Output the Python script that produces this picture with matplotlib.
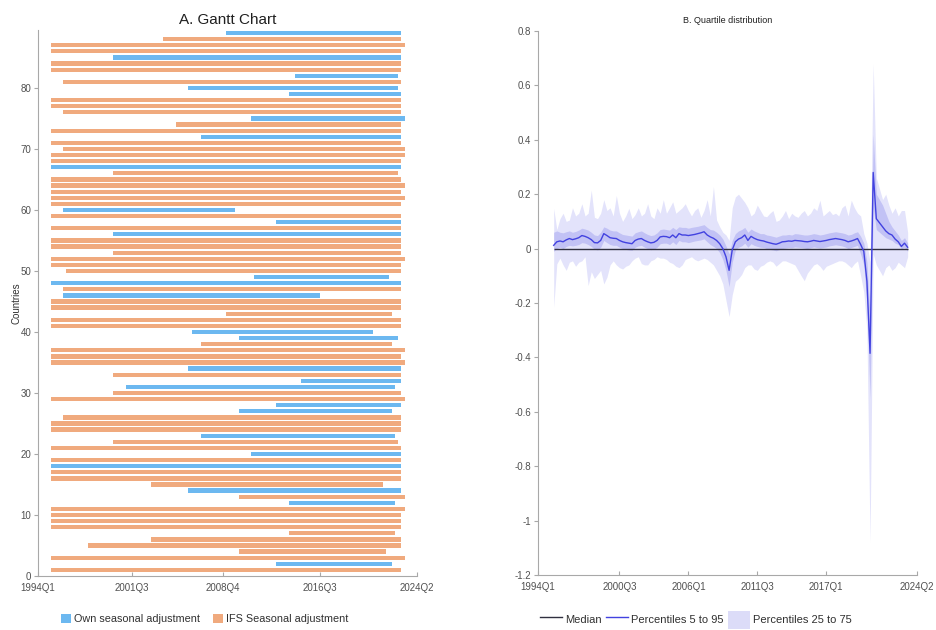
import numpy as np
import matplotlib
matplotlib.use('Agg')
import matplotlib.pyplot as plt
from matplotlib.patches import Patch
from matplotlib.lines import Line2D

##############################################################################
# DATA

# panel A: one bar per country (1..89), type and period covered
country_type = ['IFS', 'Own', 'IFS', 'IFS', 'IFS', 'IFS', 'IFS', 'IFS', 'IFS', 'IFS',
                'IFS', 'Own', 'IFS', 'Own', 'IFS', 'IFS', 'IFS', 'Own', 'IFS', 'Own',
                'IFS', 'IFS', 'Own', 'IFS', 'IFS', 'IFS', 'Own', 'Own', 'IFS', 'IFS',
                'Own', 'Own', 'IFS', 'Own', 'IFS', 'IFS', 'IFS', 'IFS', 'Own', 'Own',
                'IFS', 'IFS', 'IFS', 'IFS', 'IFS', 'Own', 'IFS', 'Own', 'Own', 'IFS',
                'IFS', 'IFS', 'IFS', 'IFS', 'IFS', 'Own', 'IFS', 'Own', 'IFS', 'Own',
                'IFS', 'IFS', 'IFS', 'IFS', 'IFS', 'IFS', 'Own', 'IFS', 'IFS', 'IFS',
                'IFS', 'Own', 'IFS', 'IFS', 'Own', 'IFS', 'IFS', 'IFS', 'Own', 'Own',
                'IFS', 'Own', 'IFS', 'IFS', 'Own', 'IFS', 'IFS', 'IFS', 'Own']
start_q = ['1995Q1', '2013Q1', '1995Q1', '2010Q1', '1998Q1', '2003Q1', '2014Q1', '1995Q1', '1995Q1', '1995Q1',
           '1995Q1', '2014Q1', '2010Q1', '2006Q1', '2003Q1', '1995Q1', '1995Q1', '1995Q1', '1995Q1', '2011Q1',
           '1995Q1', '2000Q1', '2007Q1', '1995Q1', '1995Q1', '1996Q1', '2010Q1', '2013Q1', '1995Q1', '2000Q1',
           '2001Q1', '2015Q1', '2000Q1', '2006Q1', '1995Q1', '1995Q1', '1995Q1', '2007Q1', '2010Q1', '2006Q2',
           '1995Q1', '1995Q1', '2009Q1', '1995Q1', '1995Q1', '1996Q1', '1996Q1', '1995Q1', '2011Q2', '1996Q2',
           '1995Q1', '1995Q1', '2000Q1', '1995Q1', '1995Q1', '2000Q1', '1995Q1', '2013Q1', '1995Q1', '1996Q1',
           '1995Q1', '1995Q1', '1995Q1', '1995Q1', '1995Q1', '2000Q1', '1995Q1', '1995Q1', '1995Q1', '1996Q1',
           '1995Q1', '2007Q1', '1995Q1', '2005Q1', '2011Q1', '1996Q1', '1995Q1', '1995Q1', '2014Q1', '2006Q1',
           '1996Q1', '2014Q3', '1995Q1', '1995Q1', '2000Q1', '1995Q1', '1995Q1', '2004Q1', '2009Q1']
end_q = ['2023Q1', '2022Q2', '2023Q2', '2021Q4', '2023Q1', '2023Q1', '2022Q3', '2023Q1', '2023Q1', '2023Q1',
         '2023Q2', '2022Q3', '2023Q2', '2023Q1', '2021Q3', '2023Q1', '2023Q1', '2023Q1', '2023Q1', '2023Q1',
         '2023Q1', '2022Q4', '2022Q3', '2023Q1', '2023Q1', '2023Q1', '2022Q2', '2023Q1', '2023Q2', '2023Q1',
         '2022Q3', '2023Q1', '2023Q1', '2023Q1', '2023Q2', '2023Q1', '2023Q2', '2022Q2', '2022Q4', '2020Q4',
         '2023Q1', '2023Q1', '2022Q2', '2023Q1', '2023Q1', '2016Q3', '2023Q1', '2023Q1', '2022Q1', '2023Q1',
         '2023Q1', '2023Q2', '2023Q1', '2023Q1', '2023Q1', '2023Q1', '2023Q1', '2023Q1', '2023Q1', '2009Q4',
         '2023Q1', '2023Q2', '2023Q1', '2023Q2', '2023Q1', '2022Q4', '2023Q1', '2023Q1', '2023Q2', '2023Q2',
         '2023Q1', '2023Q1', '2023Q1', '2023Q1', '2023Q2', '2023Q1', '2023Q1', '2023Q1', '2023Q1', '2022Q4',
         '2023Q1', '2022Q4', '2023Q1', '2023Q1', '2023Q1', '2023Q1', '2023Q2', '2023Q1', '2023Q1']

gantt_ticks = ['1994Q1', '2001Q3', '2008Q4', '2016Q3', '2024Q2']

# panel B: distribution across countries, 1995Q2 to 2023Q3
first_quarter = '1995Q2'
median = [0.012, 0.025, 0.028, 0.025, 0.032, 0.037, 0.033, 0.036, 0.040, 0.048,
          0.045, 0.040, 0.033, 0.022, 0.021, 0.030, 0.055, 0.048, 0.040, 0.038,
          0.037, 0.030, 0.025, 0.022, 0.020, 0.018, 0.030, 0.035, 0.037, 0.030,
          0.025, 0.021, 0.023, 0.030, 0.043, 0.045, 0.044, 0.040, 0.050, 0.040,
          0.055, 0.050, 0.050, 0.048, 0.050, 0.052, 0.055, 0.058, 0.062, 0.050,
          0.043, 0.038, 0.030, 0.018, 0.000, -0.030, -0.080, -0.005, 0.025, 0.035,
          0.040, 0.050, 0.030, 0.045, 0.038, 0.033, 0.030, 0.028, 0.024, 0.021,
          0.018, 0.016, 0.020, 0.025, 0.026, 0.028, 0.027, 0.030, 0.029, 0.028,
          0.026, 0.025, 0.027, 0.030, 0.028, 0.026, 0.028, 0.030, 0.033, 0.035,
          0.037, 0.035, 0.033, 0.030, 0.025, 0.028, 0.032, 0.037, 0.015, -0.010,
          -0.120, -0.385, 0.280, 0.110, 0.095, 0.080, 0.065, 0.055, 0.050, 0.035,
          0.025, 0.008, 0.020, 0.005]
p25 = [-0.010, 0.000, 0.005, 0.000, 0.008, 0.012, 0.010, 0.012, 0.015, 0.022,
       0.020, 0.015, 0.008, -0.002, -0.005, 0.005, 0.030, 0.022, 0.015, 0.012,
       0.012, 0.005, 0.000, -0.003, -0.005, -0.006, 0.005, 0.010, 0.012, 0.005,
       0.000, -0.004, -0.002, 0.005, 0.018, 0.020, 0.020, 0.015, 0.025, 0.015,
       0.030, 0.025, 0.025, 0.022, 0.025, 0.028, 0.030, 0.032, 0.036, 0.025,
       0.015, 0.008, 0.000, -0.015, -0.040, -0.080, -0.140, -0.050, -0.005, 0.005,
       0.010, 0.020, 0.005, 0.018, 0.012, 0.008, 0.005, 0.004, 0.000, -0.003,
       -0.005, -0.008, -0.004, 0.000, 0.002, 0.004, 0.003, 0.006, 0.005, 0.004,
       0.002, 0.000, 0.003, 0.006, 0.004, 0.002, 0.004, 0.006, 0.010, 0.012,
       0.014, 0.012, 0.010, 0.006, 0.000, 0.004, 0.008, 0.012, -0.020, -0.060,
       -0.200, -0.550, 0.150, 0.070, 0.060, 0.050, 0.040, 0.035, 0.030, 0.020,
       0.015, 0.000, 0.005, -0.010]
p75 = [0.060, 0.065, 0.060, 0.058, 0.062, 0.065, 0.060, 0.063, 0.068, 0.075,
       0.072, 0.068, 0.060, 0.050, 0.048, 0.060, 0.080, 0.075, 0.068, 0.065,
       0.065, 0.058, 0.052, 0.050, 0.048, 0.046, 0.058, 0.062, 0.065, 0.058,
       0.052, 0.048, 0.050, 0.058, 0.070, 0.072, 0.070, 0.068, 0.078, 0.070,
       0.080, 0.078, 0.078, 0.075, 0.078, 0.080, 0.082, 0.085, 0.088, 0.078,
       0.070, 0.068, 0.060, 0.050, 0.035, 0.010, -0.020, 0.030, 0.055, 0.065,
       0.070, 0.078, 0.060, 0.072, 0.065, 0.060, 0.055, 0.055, 0.050, 0.048,
       0.045, 0.042, 0.046, 0.050, 0.050, 0.052, 0.050, 0.055, 0.054, 0.052,
       0.050, 0.050, 0.052, 0.055, 0.053, 0.050, 0.052, 0.055, 0.058, 0.060,
       0.062, 0.060, 0.058, 0.055, 0.050, 0.052, 0.058, 0.062, 0.045, 0.020,
       -0.050, -0.250, 0.420, 0.200, 0.180, 0.160, 0.130, 0.100, 0.080, 0.065,
       0.050, 0.030, 0.040, 0.020]
p5 = [-0.216, -0.056, -0.035, -0.060, -0.080, -0.050, -0.045, -0.065, -0.050, -0.045,
      -0.030, -0.136, -0.085, -0.110, -0.095, -0.080, -0.130, -0.105, -0.060, -0.045,
      -0.060, -0.070, -0.075, -0.065, -0.060, -0.045, -0.035, -0.030, -0.055, -0.060,
      -0.060, -0.045, -0.040, -0.030, -0.035, -0.035, -0.040, -0.050, -0.055, -0.065,
      -0.070, -0.060, -0.040, -0.035, -0.030, -0.040, -0.045, -0.040, -0.035, -0.040,
      -0.050, -0.060, -0.080, -0.100, -0.130, -0.190, -0.250, -0.170, -0.120, -0.110,
      -0.095, -0.070, -0.060, -0.060, -0.075, -0.080, -0.065, -0.060, -0.050, -0.045,
      -0.050, -0.065, -0.055, -0.045, -0.045, -0.050, -0.055, -0.060, -0.080, -0.100,
      -0.118, -0.090, -0.075, -0.060, -0.055, -0.065, -0.080, -0.065, -0.060, -0.055,
      -0.050, -0.045, -0.045, -0.050, -0.060, -0.070, -0.055, -0.045, -0.100, -0.160,
      -0.300, -1.080, -0.020, -0.060, -0.080, -0.100, -0.070, -0.060, -0.080, -0.070,
      -0.050, -0.060, -0.070, -0.030]
p95 = [0.148, 0.070, 0.110, 0.130, 0.100, 0.105, 0.150, 0.120, 0.130, 0.165,
       0.120, 0.130, 0.215, 0.115, 0.110, 0.130, 0.180, 0.140, 0.150, 0.120,
       0.195, 0.130, 0.100, 0.120, 0.148, 0.110, 0.125, 0.150, 0.120, 0.130,
       0.165, 0.120, 0.110, 0.150, 0.130, 0.180, 0.130, 0.150, 0.172, 0.130,
       0.140, 0.150, 0.165, 0.140, 0.120, 0.140, 0.150, 0.115, 0.140, 0.180,
       0.120, 0.228, 0.105, 0.080, 0.060, 0.050, 0.030, 0.150, 0.190, 0.200,
       0.185, 0.170, 0.150, 0.120, 0.130, 0.160, 0.140, 0.120, 0.117, 0.130,
       0.140, 0.100, 0.105, 0.120, 0.140, 0.110, 0.130, 0.120, 0.115, 0.130,
       0.140, 0.120, 0.130, 0.150, 0.140, 0.178, 0.120, 0.130, 0.140, 0.125,
       0.130, 0.120, 0.150, 0.160, 0.120, 0.178, 0.150, 0.130, 0.120, 0.055,
       0.020, -0.050, 0.680, 0.260, 0.220, 0.180, 0.200, 0.160, 0.130, 0.150,
       0.120, 0.140, 0.140, 0.060]

dist_ticks = ['1994Q1', '2000Q3', '2006Q1', '2011Q3', '2017Q1', '2024Q2']

##############################################################################

def q_index(label):
    # quarters counted from 1994Q1
    year, quarter = label.split('Q')
    return (int(year) - 1994)*4 + int(quarter) - 1

color_own = '#6CB8F0'
color_ifs = '#F0AA7E'
grey_text = '#505050'
grey_axis = '#A8A8A8'

plt.rcParams['font.family'] = ['Liberation Sans', 'DejaVu Sans']

fig = plt.figure(figsize=(9.37, 6.3), dpi=100)
ax1 = fig.add_axes([0.0406, 0.0857, 0.4045, 0.8667])
ax2 = fig.add_axes([0.5742, 0.0873, 0.4045, 0.8635])

for ax in [ax1, ax2]:
    for side in ['top', 'right']:
        ax.spines[side].set_visible(False)
    for side in ['left', 'bottom']:
        ax.spines[side].set_color(grey_axis)
        ax.spines[side].set_linewidth(0.8)
    ax.tick_params(axis='y', direction='out', length=3, color=grey_axis,
                   labelsize=7, labelcolor=grey_text, pad=2)
    ax.tick_params(axis='x', direction='in', length=3, color=grey_axis,
                   labelsize=7, labelcolor=grey_text, pad=5)

# A. Gantt chart
countries = np.arange(1, len(country_type) + 1)
starts = np.array([q_index(s) for s in start_q])
ends = np.array([q_index(s) for s in end_q])
colors = [color_own if t == 'Own' else color_ifs for t in country_type]
ax1.barh(countries, ends - starts, left=starts, height=0.7, color=colors)
ax1.set_xlim(0, 121)
ax1.set_ylim(0, 89.5)
ax1.set_yticks([0, 10, 20, 30, 40, 50, 60, 70, 80])
ax1.set_xticks([q_index(s) for s in gantt_ticks])
ax1.set_xticklabels(gantt_ticks)
ax1.set_ylabel('Countries', fontsize=7, color='#303030', labelpad=-1)
ax1.set_title('A. Gantt Chart', fontsize=11, color='#202020', pad=4)

handles1 = [Patch(facecolor=color_own, label='Own seasonal adjustment'),
            Patch(facecolor=color_ifs, label='IFS Seasonal adjustment')]
fig.legend(handles=handles1, loc='center', bbox_to_anchor=(205/937, 11/630),
           ncol=2, frameon=False, fontsize=7.8, handlelength=0.9, handleheight=0.9,
           handletextpad=0.3, columnspacing=1.2, labelcolor='#303030')

# B. quartile distribution
x = np.arange(len(median)) + q_index(first_quarter)
ax2.fill_between(x, p5, p95, color='#E3E3FB', linewidth=0)
ax2.fill_between(x, p25, p75, color='#C2C2F5', linewidth=0)
ax2.hlines(0, x[0], x[-1], color='#303040', linewidth=1.0)
ax2.plot(x, median, color='#4242E0', linewidth=1.0)
ax2.set_xlim(0, 121)
ax2.set_ylim(-1.2, 0.8)
ax2.set_yticks(np.arange(-1.2, 0.81, 0.2))
ax2.set_yticklabels(['-1.2', '-1', '-0.8', '-0.6', '-0.4', '-0.2', '0',
                     '0.2', '0.4', '0.6', '0.8'])
ax2.set_xticks([q_index(s) for s in dist_ticks])
ax2.set_xticklabels(dist_ticks)
ax2.set_title('B. Quartile distribution', fontsize=6.5, color='#202020', pad=6)

handles2 = [Line2D([], [], color='#303040', linewidth=1.0, label='Median'),
            Line2D([], [], color='#4242E0', linewidth=1.0, label='Percentiles 5 to 95'),
            Patch(facecolor='#DCDCF8', label='Percentiles 25 to 75')]
fig.legend(handles=handles2, loc='center', bbox_to_anchor=(696/937, 10/630),
           ncol=3, frameon=False, fontsize=8, handlelength=2.0, handleheight=2.2,
           handletextpad=0.25, columnspacing=0.4, labelcolor='#303030')

fig.savefig('out.png', dpi=100)
plt.close()
